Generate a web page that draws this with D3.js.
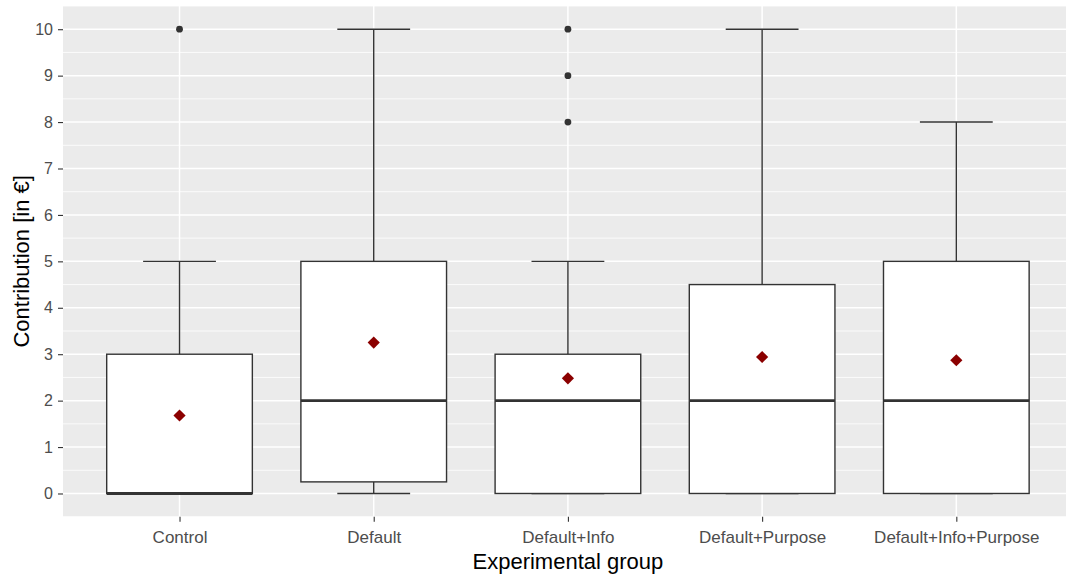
<!DOCTYPE html>
<meta charset="utf-8">
<style>
  body { margin: 0; background: #fff; }
  text { font-family: "Liberation Sans", Arial, sans-serif; }
  .tick text { fill: #4d4d4d; }
  .y .tick text { font-size: 16px; }
  .x .tick text { font-size: 17px; }
  .title { font-size: 22px; fill: #000; }
</style>
<svg width="1066" height="577"></svg>
<script src="https://d3js.org/d3.v7.min.js"></script>
<script>

// five-number summaries
var groups   = ["Control", "Default", "Default+Info", "Default+Purpose", "Default+Info+Purpose"];
var lower    = [0, 0, 0, 0, 0];
var q1       = [0, 0.25, 0, 0, 0];
var median   = [0, 2, 2, 2, 2];
var q3       = [3, 5, 3, 4.5, 5];
var upper    = [5, 10, 5, 10, 8];
var means    = [1.68, 3.25, 2.48, 2.94, 2.87];
var outliers = [[10], [], [8, 9, 10], [], []];
var yTicks   = [0, 1, 2, 3, 4, 5, 6, 7, 8, 9, 10];

var data = groups.map(function(g, i) {
  return {group: g, lower: lower[i], q1: q1[i], median: median[i], q3: q3[i],
          upper: upper[i], mean: means[i], out: outliers[i]};
});

var svg = d3.select("svg"),
    margin = {top: 6, right: 0, bottom: 60, left: 63},
    height = +svg.attr("height");

var step = 194.2;
var panelW = step * 5.2;

// discrete scale with ggplot's 0.6 expansion on both sides
var x = d3.scalePoint()
    .domain(groups)
    .range([margin.left + 0.6 * step, margin.left + 4.6 * step]);

var y = d3.scaleLinear()
    .domain([-0.5, 10.5])
    .range([height - margin.bottom - 0.3, margin.top]);

var boxW = step * 0.75,
    capW = step * 0.375;

svg.append("rect")
    .attr("x", margin.left)
    .attr("y", margin.top)
    .attr("width", panelW)
    .attr("height", y(-0.5) - margin.top)
    .attr("fill", "#ebebeb");

var grid = svg.append("g");

grid.selectAll(".minor")
  .data(d3.range(-0.5, 10.6, 1))
  .enter().append("line")
    .attr("x1", margin.left).attr("x2", margin.left + panelW)
    .attr("y1", function(d) { return y(d); })
    .attr("y2", function(d) { return y(d); })
    .attr("stroke", "#fff").attr("stroke-width", 0.8);

grid.selectAll(".major")
  .data(yTicks)
  .enter().append("line")
    .attr("x1", margin.left).attr("x2", margin.left + panelW)
    .attr("y1", function(d) { return y(d); })
    .attr("y2", function(d) { return y(d); })
    .attr("stroke", "#fff").attr("stroke-width", 1.5);

grid.selectAll(".vert")
  .data(groups)
  .enter().append("line")
    .attr("x1", function(d) { return x(d); })
    .attr("x2", function(d) { return x(d); })
    .attr("y1", margin.top).attr("y2", y(-0.5))
    .attr("stroke", "#fff").attr("stroke-width", 1.5);

var box = svg.append("g").selectAll("g")
  .data(data)
  .enter().append("g")
    .attr("transform", function(d) { return "translate(" + x(d.group) + ",0)"; });

// whiskers and caps
box.append("line")
    .attr("y1", function(d) { return y(d.q3); })
    .attr("y2", function(d) { return y(d.upper); })
    .attr("stroke", "#333").attr("stroke-width", 1.4);
box.append("line")
    .attr("y1", function(d) { return y(d.q1); })
    .attr("y2", function(d) { return y(d.lower); })
    .attr("stroke", "#333").attr("stroke-width", 1.4);
box.append("line")
    .attr("x1", -capW / 2).attr("x2", capW / 2)
    .attr("y1", function(d) { return y(d.upper); })
    .attr("y2", function(d) { return y(d.upper); })
    .attr("stroke", "#333").attr("stroke-width", 1.4);
box.append("line")
    .attr("x1", -capW / 2).attr("x2", capW / 2)
    .attr("y1", function(d) { return y(d.lower); })
    .attr("y2", function(d) { return y(d.lower); })
    .attr("stroke", "#333").attr("stroke-width", 1.4);

box.append("rect")
    .attr("x", -boxW / 2)
    .attr("width", boxW)
    .attr("y", function(d) { return y(d.q3); })
    .attr("height", function(d) { return y(d.q1) - y(d.q3); })
    .attr("fill", "#fff")
    .attr("stroke", "#333").attr("stroke-width", 1.4);

box.append("line")
    .attr("x1", -boxW / 2).attr("x2", boxW / 2)
    .attr("y1", function(d) { return y(d.median); })
    .attr("y2", function(d) { return y(d.median); })
    .attr("stroke", "#333").attr("stroke-width", 2.8);

box.selectAll("circle")
  .data(function(d) { return d.out; })
  .enter().append("circle")
    .attr("cy", function(d) { return y(d); })
    .attr("r", 3.4)
    .attr("fill", "#333");

box.append("path")
    .attr("d", d3.symbol().type(d3.symbolDiamond2).size(95))
    .attr("transform", function(d) { return "translate(0," + y(d.mean) + ")"; })
    .attr("fill", "#8b0000");

var yAxis = svg.append("g")
    .attr("class", "y")
    .attr("transform", "translate(" + margin.left + ",0)")
    .call(d3.axisLeft(y).tickValues(yTicks).tickSize(5).tickPadding(5));
yAxis.select(".domain").remove();
yAxis.selectAll(".tick line").attr("stroke", "#333").attr("stroke-width", 1.1);

var xAxis = svg.append("g")
    .attr("class", "x")
    .attr("transform", "translate(0," + y(-0.5) + ")")
    .call(d3.axisBottom(x).tickSize(5).tickPadding(5));
xAxis.select(".domain").remove();
xAxis.selectAll(".tick line").attr("stroke", "#333").attr("stroke-width", 1.1);
xAxis.selectAll(".tick text").attr("y", 26).attr("dy", null);

svg.append("text")
    .attr("class", "title")
    .attr("x", x("Default+Info"))
    .attr("y", 569)
    .attr("text-anchor", "middle")
    .text("Experimental group");

svg.append("text")
    .attr("class", "title")
    .attr("transform", "translate(29," + y(5) + ") rotate(-90)")
    .attr("text-anchor", "middle")
    .text("Contribution [in €]");

</script>
